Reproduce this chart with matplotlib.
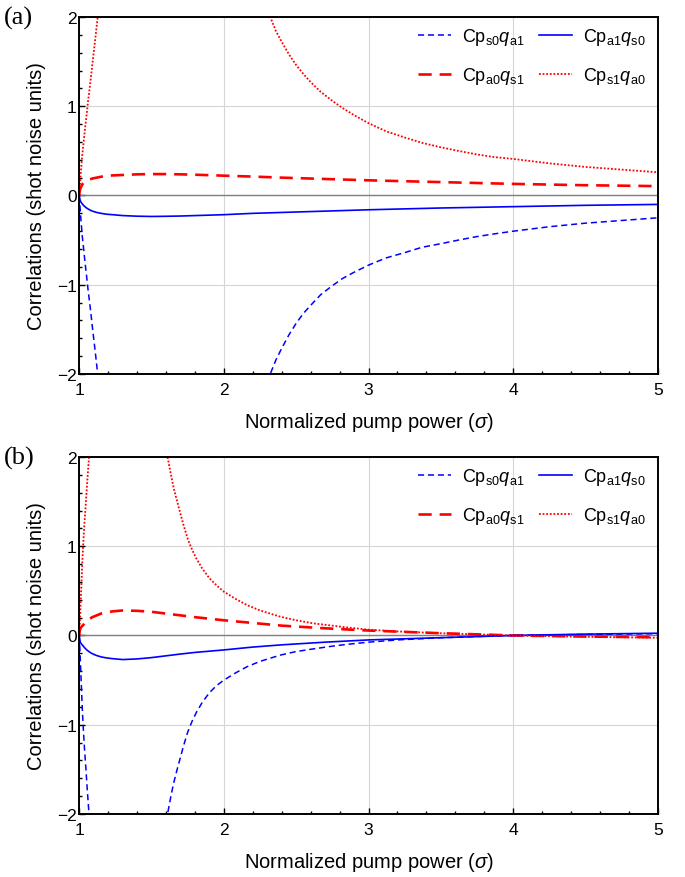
import numpy as np
import matplotlib
matplotlib.use('Agg')
from matplotlib import pyplot as plt
from matplotlib.ticker import MultipleLocator

plt.rcParams['font.family'] = ['Liberation Sans', 'DejaVu Sans']
plt.rcParams['mathtext.fontset'] = 'custom'
plt.rcParams['mathtext.rm'] = 'Liberation Sans'
plt.rcParams['mathtext.it'] = 'Liberation Sans:italic'

nan = np.nan

# panel (a), nan separates the branches around the pole
a_s0a1_x = [1.0, 1.002, 1.005, 1.01, 1.02, 1.03, 1.04, 1.05, 1.06, 1.075, 1.09, 1.11, 1.127, 1.14, nan,
            2.28, 2.32, 2.36, 2.4, 2.45, 2.5, 2.55, 2.6, 2.67, 2.75, 2.82, 2.9, 3.0, 3.12, 3.25,
            3.37, 3.5, 3.62, 3.75, 3.87, 4.0, 4.25, 4.5, 4.75, 5.0]
a_s0a1_y = [0.0, -0.06, -0.13, -0.25, -0.45, -0.6, -0.76, -0.9, -1.05, -1.25, -1.47, -1.75, -2.0, -2.2, nan,
            -2.2, -2.0, -1.84, -1.71, -1.56, -1.43, -1.32, -1.23, -1.11, -1.01, -0.93, -0.86, -0.78, -0.70, -0.64,
            -0.58, -0.54, -0.50, -0.46, -0.43, -0.40, -0.35, -0.31, -0.28, -0.25]
a_s1a0_x = a_s0a1_x
a_s1a0_y = [0.0, 0.06, 0.13, 0.25, 0.45, 0.6, 0.76, 0.9, 1.05, 1.25, 1.47, 1.75, 2.0, 2.2, nan,
            2.2, 2.0, 1.84, 1.72, 1.58, 1.46, 1.36, 1.27, 1.16, 1.06, 0.98, 0.90, 0.81, 0.72, 0.65,
            0.59, 0.54, 0.50, 0.46, 0.43, 0.41, 0.36, 0.32, 0.29, 0.26]
a_a0s1_x = [1.0, 1.001, 1.003, 1.006, 1.01, 1.016, 1.023, 1.035, 1.05, 1.07, 1.09, 1.12, 1.15, 1.19, 1.23,
            1.3, 1.4, 1.5, 1.6, 1.7, 1.8, 2.0, 2.2, 2.4, 2.7, 3.0, 3.5, 4.0, 4.5, 5.0]
a_a0s1_y = [0.0, 0.03, 0.05, 0.07, 0.09, 0.11, 0.13, 0.15, 0.165, 0.18, 0.19, 0.20, 0.21, 0.22, 0.225,
            0.23, 0.237, 0.24, 0.24, 0.237, 0.233, 0.222, 0.212, 0.20, 0.185, 0.17, 0.15, 0.13, 0.115, 0.105]
a_a1s0_x = a_a0s1_x
a_a1s0_y = [0.0, -0.025, -0.04, -0.055, -0.07, -0.085, -0.10, -0.12, -0.14, -0.16, -0.175, -0.19, -0.20, -0.21, -0.215,
            -0.225, -0.232, -0.235, -0.233, -0.23, -0.225, -0.215, -0.20, -0.19, -0.175, -0.16, -0.14, -0.125, -0.11, -0.10]

# panel (b)
b_s0a1_x = [1.0, 1.002, 1.005, 1.01, 1.015, 1.02, 1.026, 1.035, 1.045, 1.055, 1.067, 1.08, nan,
            1.60, 1.61, 1.63, 1.65, 1.67, 1.69, 1.72, 1.75, 1.78, 1.81, 1.85, 1.9, 1.95, 2.0, 2.08, 2.16,
            2.25, 2.39, 2.5, 2.62, 2.75, 2.85, 3.0, 3.2, 3.5, 3.75, 4.0, 4.5, 5.0]
b_s0a1_y = [0.0, -0.08, -0.2, -0.4, -0.6, -0.8, -1.0, -1.25, -1.48, -1.73, -2.0, -2.2, nan,
            -2.2, -2.0, -1.83, -1.67, -1.54, -1.42, -1.24, -1.08, -0.96, -0.86, -0.75, -0.64, -0.56, -0.50, -0.42, -0.35,
            -0.29, -0.22, -0.18, -0.15, -0.12, -0.10, -0.075, -0.05, -0.025, -0.012, 0.0, 0.012, 0.02]
b_s1a0_x = b_s0a1_x
b_s1a0_y = [0.0, 0.08, 0.2, 0.4, 0.6, 0.8, 1.0, 1.25, 1.48, 1.73, 2.0, 2.2, nan,
            2.2, 2.0, 1.83, 1.67, 1.54, 1.42, 1.24, 1.08, 0.96, 0.86, 0.75, 0.64, 0.56, 0.49, 0.41, 0.34,
            0.28, 0.21, 0.17, 0.135, 0.11, 0.09, 0.065, 0.045, 0.025, 0.012, 0.0, -0.015, -0.026]
b_a0s1_x = a_a0s1_x
b_a0s1_y = [0.0, 0.03, 0.05, 0.07, 0.085, 0.10, 0.11, 0.135, 0.16, 0.185, 0.205, 0.225, 0.245, 0.26, 0.27,
            0.28, 0.276, 0.265, 0.245, 0.225, 0.205, 0.17, 0.14, 0.11, 0.08, 0.055, 0.025, 0.0, -0.012, -0.02]
b_a1s0_x = a_a0s1_x
b_a1s0_y = [0.0, -0.03, -0.05, -0.07, -0.085, -0.10, -0.11, -0.135, -0.16, -0.185, -0.205, -0.225, -0.24, -0.252, -0.26,
            -0.27, -0.263, -0.248, -0.228, -0.208, -0.19, -0.162, -0.13, -0.105, -0.075, -0.05, -0.025, 0.0, 0.015, 0.025]

labels = [r'Cp$_\mathrm{s0}$$\mathit{q}_\mathrm{a1}$', r'Cp$_\mathrm{a0}$$\mathit{q}_\mathrm{s1}$',
          r'Cp$_\mathrm{a1}$$\mathit{q}_\mathrm{s0}$', r'Cp$_\mathrm{s1}$$\mathit{q}_\mathrm{a0}$']

panels = [
    ('(a)', a_s0a1_x, a_s0a1_y, a_a0s1_x, a_a0s1_y, a_a1s0_x, a_a1s0_y, a_s1a0_x, a_s1a0_y),
    ('(b)', b_s0a1_x, b_s0a1_y, b_a0s1_x, b_a0s1_y, b_a1s0_x, b_a1s0_y, b_s1a0_x, b_s1a0_y),
]

fig = plt.figure(figsize=(6.85, 8.78), dpi=100)
boxes = [[0.1158, 0.5729, 0.8445, 0.4066], [0.1158, 0.0718, 0.8445, 0.4066]]

for box, p in zip(boxes, panels):
    ax = fig.add_axes(box)
    tag, x1, y1, x2, y2, x3, y3, x4, y4 = p
    ax.axhline(0, color='#808080', lw=1.0, zorder=1)
    l1, = ax.plot(x1, y1, color='#0000ff', lw=1.1, dashes=(4, 2.5), label=labels[0])
    l2, = ax.plot(x2, y2, color='#ff0000', lw=1.9, dashes=(5, 3), label=labels[1])
    l3, = ax.plot(x3, y3, color='#0000ff', lw=1.2, label=labels[2])
    l4, = ax.plot(x4, y4, color='#ff0000', lw=1.3, dashes=(1, 1), label=labels[3])
    ax.set_xlim(1, 5)
    ax.set_ylim(-2, 2)
    ax.xaxis.set_major_locator(MultipleLocator(1))
    ax.xaxis.set_minor_locator(MultipleLocator(0.2))
    ax.yaxis.set_major_locator(MultipleLocator(1))
    ax.yaxis.set_minor_locator(MultipleLocator(0.2))
    ax.grid(True, which='major', color='#d6d6d6', lw=0.8)
    ax.set_axisbelow(True)
    ax.tick_params(which='both', direction='in', labelsize=12.5, width=1)
    ax.tick_params(axis='x', pad=6)
    ax.tick_params(axis='y', pad=2)
    ax.tick_params(which='major', length=4)
    ax.tick_params(which='minor', length=2.5)
    for s in ax.spines.values():
        s.set_linewidth(1.4)
    ax.set_xlabel(r'Normalized pump power ($\sigma$)', fontsize=14.5)
    ax.set_ylabel('Correlations (shot noise units)', fontsize=14.5)
    ax.yaxis.set_label_coords(-0.057, 0.5)
    ax.xaxis.set_label_coords(0.5, -0.10)
    ax.legend(handles=[l1, l2, l3, l4], ncol=2, loc='upper left', bbox_to_anchor=(0.585, 0.975),
              frameon=False, fontsize=13, borderpad=0, borderaxespad=0, labelspacing=1.0,
              handlelength=1.85, handletextpad=0.6, columnspacing=0.8)
    fig.text(0.005, box[1] + box[3], tag, family=['Liberation Serif', 'DejaVu Serif'],
             fontsize=19, va='center', ha='left')

fig.savefig('out.png', dpi=100)
plt.close()
